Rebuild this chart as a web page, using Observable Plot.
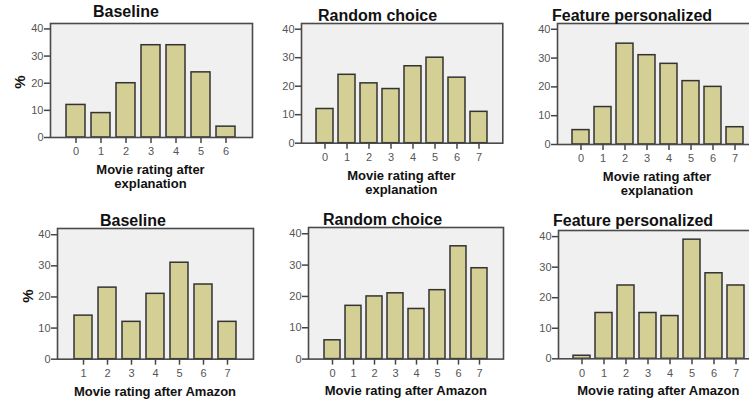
<!DOCTYPE html>
<html>
<head>
<meta charset="utf-8">
<script src="https://cdn.jsdelivr.net/npm/d3@7"></script>
<script src="https://cdn.jsdelivr.net/npm/@observablehq/plot@0.6"></script>
<style>
  html, body { margin: 0; padding: 0; background: #fff; }
  #root { position: relative; width: 749px; height: 403px; overflow: hidden; background: #fff;
          font-family: "Liberation Sans", Arial, sans-serif; }
  .panel { position: absolute; }
  .title { position: absolute; font-weight: bold; font-size: 16px; line-height: 16px; color: #111; white-space: nowrap; }
  .xlab { position: absolute; font-weight: bold; font-size: 13px; line-height: 14px; color: #111; text-align: center; white-space: nowrap; transform: translateX(-50%); }
  .ylab { position: absolute; font-weight: bold; font-size: 15px; line-height: 15px; color: #111; white-space: nowrap; transform: translate(-50%, -50%) rotate(-90deg); }
</style>
</head>
<body>
<div id="root"></div>
<script>
// ---- data ----
const titles = ["Baseline", "Random choice", "Feature personalized"];
const xLabelExplanation = ["Movie rating after", "explanation"];
const xLabelAmazon = ["Movie rating after Amazon"];
const yLabel = "%";
const yTicks = [0, 10, 20, 30, 40];

const cats0to6 = [0, 1, 2, 3, 4, 5, 6];
const cats0to7 = [0, 1, 2, 3, 4, 5, 6, 7];
const cats1to7 = [1, 2, 3, 4, 5, 6, 7];

const baselineExplanation = [12, 9, 20, 34, 34, 24, 4];
const randomExplanation   = [12, 24, 21, 19, 27, 30, 23, 11];
const featureExplanation  = [5, 13, 35, 31, 28, 22, 20, 6];
const baselineAmazon      = [14, 23, 12, 21, 31, 24, 12];
const randomAmazon        = [6, 17, 20, 21, 16, 22, 36, 29];
const featureAmazon       = [1, 15, 24, 15, 14, 39, 28, 24];

// ---- layout (frame boxes in page pixels) ----
const panels = [
  {title: titles[0], cats: cats0to6, vals: baselineExplanation, xl: xLabelExplanation, fx: 49.5, fy: 23.3, fw: 202, fh: 114, tx: 93, tb: 17, ylab: true},
  {title: titles[1], cats: cats0to7, vals: randomExplanation,   xl: xLabelExplanation, fx: 300.7, fy: 23.3, fw: 201.3, fh: 119.7, tx: 318, tb: 21.5},
  {title: titles[2], cats: cats0to7, vals: featureExplanation,  xl: xLabelExplanation, fx: 557, fy: 23, fw: 200, fh: 121, tx: 552, tb: 21.5},
  {title: titles[0], cats: cats1to7, vals: baselineAmazon,      xl: xLabelAmazon, fx: 57, fy: 228.3, fw: 196, fh: 130.7, tx: 100, tb: 226.5, ylab: true},
  {title: titles[1], cats: cats0to7, vals: randomAmazon,        xl: xLabelAmazon, fx: 308.3, fy: 226.7, fw: 195, fh: 131.6, tx: 323, tb: 225},
  {title: titles[2], cats: cats0to7, vals: featureAmazon,       xl: xLabelAmazon, fx: 558.3, fy: 230, fw: 200, fh: 128.3, tx: 553, tb: 226.5}
];

const root = document.getElementById("root");
const mL = 32, mR = 1, mT = 1, mB = 22;

for (const p of panels) {
  const data = p.cats.map((c, i) => ({cat: c, value: p.vals[i]}));
  const chart = Plot.plot({
    width: p.fw + mL + mR,
    height: p.fh + mT + mB,
    marginLeft: mL, marginRight: mR, marginTop: mT, marginBottom: mB,
    style: {fontFamily: "Liberation Sans, Arial, sans-serif", fontSize: "11px", background: "transparent", overflow: "visible"},
    x: {type: "band", domain: p.cats, paddingInner: 0.23, paddingOuter: 0.55, align: 0.5},
    y: {domain: [0, 42]},
    marks: [
      Plot.frame({fill: "#f0f0f0", stroke: null}),
      Plot.barY(data, {x: "cat", y: "value", fill: "#d4cf94", stroke: "#333", strokeWidth: 1.5}),
      Plot.frame({stroke: "#4a4a4a", strokeWidth: 1.6}),
      Plot.axisY({ticks: yTicks, tickSize: 6, tickPadding: 1, label: null, stroke: "#444", strokeWidth: 1.5, fill: "#555"}),
      Plot.axisX({tickSize: 6, tickPadding: 4, label: null, stroke: "#444", strokeWidth: 1.5, fill: "#555"})
    ]
  });
  chart.classList.add("panel");
  chart.style.left = (p.fx - mL) + "px";
  chart.style.top = (p.fy - mT) + "px";
  root.appendChild(chart);

  const t = document.createElement("div");
  t.className = "title";
  t.textContent = p.title;
  t.style.left = p.tx + "px";
  t.style.top = (p.tb - 13.5) + "px";
  root.appendChild(t);

  const xl = document.createElement("div");
  xl.className = "xlab";
  xl.innerHTML = p.xl.join("<br>");
  xl.style.left = (p.fx + p.fw / 2) + "px";
  xl.style.top = (p.fy + p.fh + 37 - 11.5) + "px";
  root.appendChild(xl);

  if (p.ylab) {
    const yl = document.createElement("div");
    yl.className = "ylab";
    yl.textContent = yLabel;
    yl.style.left = (p.fx - 30.5) + "px";
    yl.style.top = (p.fy + p.fh / 2 + 2) + "px";
    root.appendChild(yl);
  }
}
</script>
</body>
</html>
